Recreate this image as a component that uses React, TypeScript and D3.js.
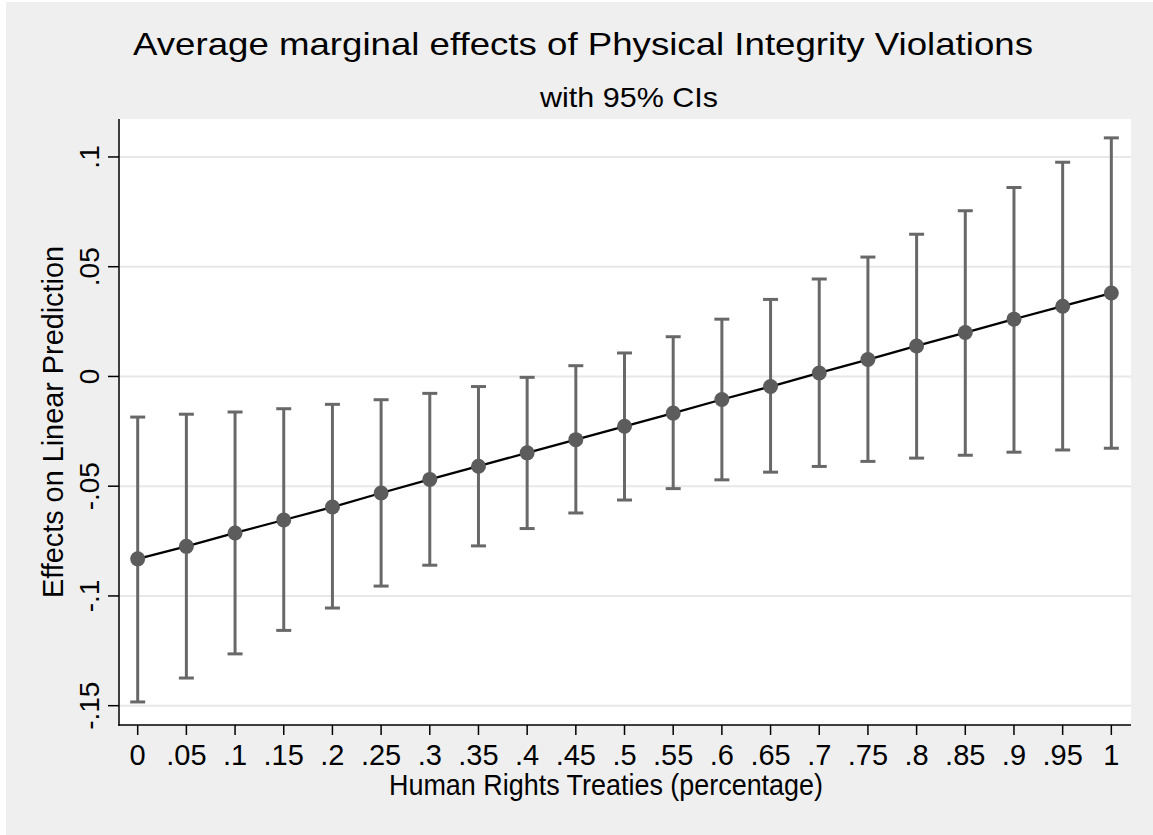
import React from 'react'
import { scaleLinear, line } from 'd3'

// values
const xValues = [0, 0.05, 0.1, 0.15, 0.2, 0.25, 0.3, 0.35, 0.4, 0.45, 0.5, 0.55, 0.6, 0.65, 0.7, 0.75, 0.8, 0.85, 0.9, 0.95, 1]
const xTickLabels = ['0', '.05', '.1', '.15', '.2', '.25', '.3', '.35', '.4', '.45', '.5', '.55', '.6', '.65', '.7', '.75', '.8', '.85', '.9', '.95', '1']
const margins = [-0.0831, -0.0774, -0.0713, -0.0654, -0.0595, -0.0531, -0.0469, -0.0409, -0.0348, -0.0288, -0.0227, -0.0167, -0.0105, -0.0046, 0.0016, 0.0077, 0.0139, 0.02, 0.0261, 0.032, 0.038]
const upperCI = [-0.0185, -0.0172, -0.0162, -0.0147, -0.0127, -0.0106, -0.0077, -0.0046, -0.0004, 0.0049, 0.0107, 0.0181, 0.0261, 0.0351, 0.0444, 0.0544, 0.0648, 0.0755, 0.0861, 0.0976, 0.1087]
const lowerCI = [-0.1483, -0.1374, -0.1264, -0.1157, -0.1055, -0.0955, -0.086, -0.0772, -0.0693, -0.0622, -0.0563, -0.0511, -0.0471, -0.0436, -0.041, -0.0387, -0.0372, -0.0359, -0.0345, -0.0335, -0.0327]
const yTicks = [-0.15, -0.1, -0.05, 0, 0.05, 0.1]
const yTickLabels = ['-.15', '-.1', '-.05', '0', '.05', '.1']

const W = 1153
const H = 835
const plot = { left: 119, right: 1131, top: 119, bottom: 725 }
const font = '"Liberation Sans", Arial, Helvetica, sans-serif'
const ciColor = '#686868'

const App = () => {
  const x = scaleLinear().domain([-0.0192, 1.0202]).range([plot.left, plot.right])
  const y = scaleLinear().domain([-0.1588, 0.1173]).range([plot.bottom, plot.top])

  const path = line<number>()
    .x((d, i) => x(xValues[i]))
    .y(d => y(d))(margins)

  const midY = (plot.top + plot.bottom) / 2

  return (
    <div style={{ position: 'absolute', left: 0, top: 0 }}>
      <svg width={W} height={H} style={{ display: 'block', fontFamily: font }}>
        <rect x={0} y={0} width={W} height={H} fill="#ffffff" />
        <rect x={6} y={2} width={W - 6} height={H - 2} fill="#efefef" />
        <rect x={plot.left} y={plot.top} width={plot.right - plot.left} height={plot.bottom - plot.top} fill="#ffffff" />

        {/* gridlines */}
        {yTicks.map(t => (
          <line key={'g' + t} x1={plot.left} x2={plot.right} y1={y(t)} y2={y(t)} stroke="#e8e8e8" strokeWidth={2} />
        ))}

        {/* confidence intervals */}
        {xValues.map((v, i) => (
          <g key={'ci' + i} stroke={ciColor} strokeWidth={3}>
            <line x1={x(v)} x2={x(v)} y1={y(lowerCI[i])} y2={y(upperCI[i])} />
            <line x1={x(v) - 7.5} x2={x(v) + 7.5} y1={y(lowerCI[i])} y2={y(lowerCI[i])} />
            <line x1={x(v) - 7.5} x2={x(v) + 7.5} y1={y(upperCI[i])} y2={y(upperCI[i])} />
          </g>
        ))}

        <path d={path || ''} fill="none" stroke="#000000" strokeWidth={2.3} />

        {margins.map((m, i) => (
          <circle key={'p' + i} cx={x(xValues[i])} cy={y(m)} r={7.5} fill="#5c5c5c" />
        ))}

        {/* axes */}
        <line x1={plot.left} x2={plot.left} y1={plot.top} y2={plot.bottom + 0.75} stroke="#000" strokeWidth={1.5} />
        <line x1={plot.left - 0.75} x2={plot.right} y1={plot.bottom} y2={plot.bottom} stroke="#000" strokeWidth={1.5} />

        {yTicks.map((t, i) => (
          <g key={'yt' + t}>
            <line x1={plot.left - 11} x2={plot.left} y1={y(t)} y2={y(t)} stroke="#000" strokeWidth={1.5} />
            <text
              transform={`translate(${plot.left - 20},${y(t)}) rotate(-90)`}
              textAnchor="middle"
              fontSize={28}
              fill="#000"
            >
              {yTickLabels[i]}
            </text>
          </g>
        ))}

        {xValues.map((v, i) => (
          <g key={'xt' + i}>
            <line x1={x(v)} x2={x(v)} y1={plot.bottom} y2={plot.bottom + 10} stroke="#000" strokeWidth={1.5} />
            <text x={x(v)} y={765} textAnchor="middle" fontSize={29} fill="#000">
              {xTickLabels[i]}
            </text>
          </g>
        ))}

        {/* titles */}
        <text x={583} y={55} textAnchor="middle" fontSize={32} fill="#000" textLength={900} lengthAdjust="spacingAndGlyphs">
          Average marginal effects of Physical Integrity Violations
        </text>
        <text x={629} y={107} textAnchor="middle" fontSize={28} fill="#000" textLength={178} lengthAdjust="spacingAndGlyphs">
          with 95% CIs
        </text>
        <text x={606} y={795} textAnchor="middle" fontSize={29} fill="#000" textLength={434} lengthAdjust="spacingAndGlyphs">
          Human Rights Treaties (percentage)
        </text>
        <text
          transform={`translate(63,${midY}) rotate(-90)`}
          textAnchor="middle"
          fontSize={29}
          fill="#000"
          textLength={352}
          lengthAdjust="spacingAndGlyphs"
        >
          Effects on Linear Prediction
        </text>
      </svg>
    </div>
  )
}

export default App
